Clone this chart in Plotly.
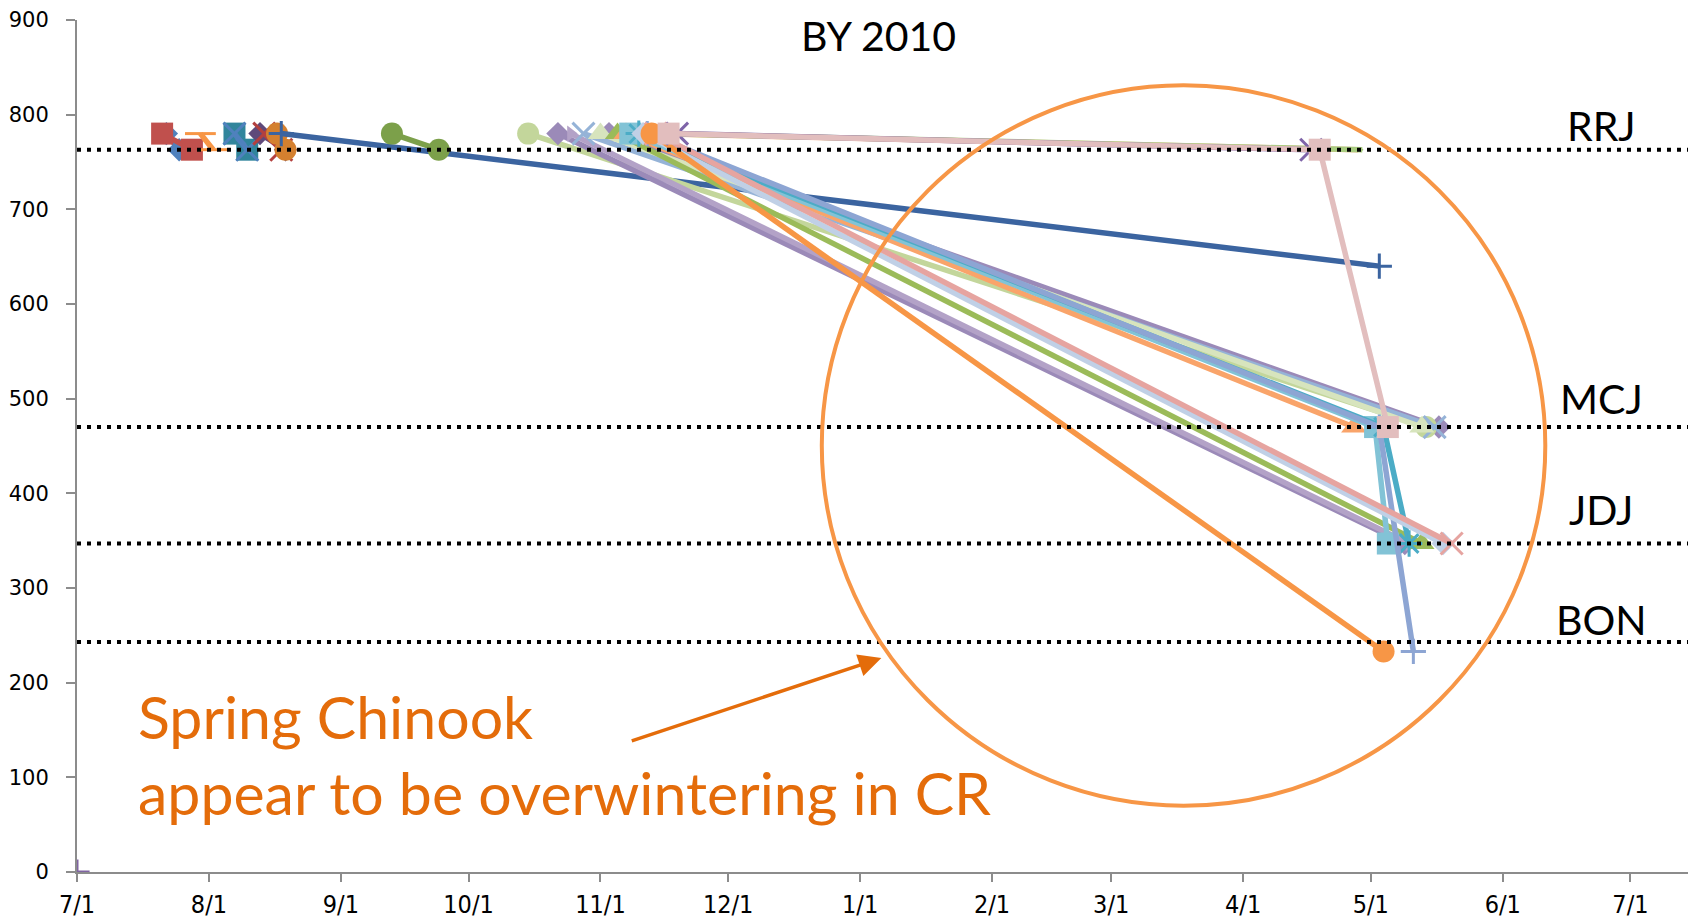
import plotly.graph_objects as go

# ---------------- data (dates, river km) ----------------
s01_dates = ["2010-07-01"]; s01_rkm = [0]
s02_dates = ["2010-07-22", "2010-07-25"]; s02_rkm = [780, 763]
s03_dates = ["2010-07-21", "2010-07-28"]; s03_rkm = [780, 763]
s04_dates = ["2010-07-30", "2010-08-02"]; s04_rkm = [780, 763]
s05_dates = ["2010-08-07", "2010-08-10"]; s05_rkm = [780, 763]
s06_dates = ["2010-08-07", "2010-08-10"]; s06_rkm = [780, 763]
s07_dates = ["2010-08-13", "2010-08-19"]; s07_rkm = [780, 763]
s08_dates = ["2010-08-14", "2010-08-18"]; s08_rkm = [780, 763]
s09_dates = ["2010-08-17", "2010-08-19"]; s09_rkm = [780, 763]
s10_dates = ["2010-08-18", "2011-05-03"]; s10_rkm = [780, 640]
s11_dates = ["2010-09-13", "2010-09-24"]; s11_rkm = [780, 763]
s12_dates = ["2010-11-03", "2011-05-17"]; s12_rkm = [780, 470]
s13_dates = ["2010-10-15", "2011-05-14"]; s13_rkm = [780, 470]
s14_dates = ["2010-10-22", "2011-05-09"]; s14_rkm = [780, 347]
s15_dates = ["2010-10-25", "2011-05-10"]; s15_rkm = [780, 347]
s16_dates = ["2010-10-28", "2011-05-16"]; s16_rkm = [780, 470]
s17_dates = ["2010-11-01", "2011-05-13"]; s17_rkm = [780, 470]
s18_dates = ["2010-11-05", "2011-05-13"]; s18_rkm = [780, 347]
s19_dates = ["2010-11-07", "2011-04-27"]; s19_rkm = [780, 470]
s20_dates = ["2010-11-08", "2011-05-02", "2011-05-05"]; s20_rkm = [780, 470, 347]
s21_dates = ["2010-11-10", "2011-05-04", "2011-05-10"]; s21_rkm = [780, 470, 347]
s22_dates = ["2010-11-12", "2011-05-03", "2011-05-11"]; s22_rkm = [780, 470, 233]
s23_dates = ["2010-11-11", "2011-05-18"]; s23_rkm = [780, 347]
s24_dates = ["2010-11-12", "2011-04-28"]; s24_rkm = [780, 763]
s25_dates = ["2010-11-14", "2011-04-29"]; s25_rkm = [780, 763]
s26_dates = ["2010-11-14", "2011-05-20"]; s26_rkm = [780, 347]
s27_dates = ["2010-11-13", "2011-05-04"]; s27_rkm = [780, 233]
s28_dates = ["2010-11-19", "2011-04-17"]; s28_rkm = [780, 763]
s29_dates = ["2010-11-17", "2011-04-19", "2011-05-05"]; s29_rkm = [780, 763, 470]

dam_names = ["RRJ", "MCJ", "JDJ", "BON"]
dam_rkm = [763, 470, 347, 243]

x_range = ["2010-07-01", "2011-07-15"]
title_text = "BY 2010"
note_lines = ["Spring Chinook", "appear to be overwintering in CR"]

# ---------------- styles ----------------
series = [
    (s01_dates, s01_rkm, "#8064A2", "cross-thin-open", 18),
    (s02_dates, s02_rkm, "#4F81BD", "diamond", 18),
    (s03_dates, s03_rkm, "#C0504D", "square", 22),
    (s04_dates, s04_rkm, "#F79646", "line-ew-open", 22),
    (s05_dates, s05_rkm, "#31859C", "square", 22),
    (s06_dates, s06_rkm, "#4F81BD", "x-thin-open", 22),
    (s07_dates, s07_rkm, "#5F497A", "diamond", 18),
    (s08_dates, s08_rkm, "#B3403E", "x-thin-open", 22),
    (s09_dates, s09_rkm, "#D4802F", "circle", 22),
    (s10_dates, s10_rkm, "#3B64A0", "cross-thin-open", 18),
    (s11_dates, s11_rkm, "#7CA04A", "circle", 22),
    (s12_dates, s12_rkm, "#9B8AB8", "diamond", 18),
    (s13_dates, s13_rkm, "#C3D69B", "circle", 22),
    (s14_dates, s14_rkm, "#9B8AB8", "diamond", 18),
    (s15_dates, s15_rkm, "#B3A2C7", "triangle-right", 14),
    (s16_dates, s16_rkm, "#95B3D7", "x-thin-open", 22),
    (s17_dates, s17_rkm, "#D7E4BD", "triangle-up", 22),
    (s18_dates, s18_rkm, "#9BBB59", "triangle-up", 22),
    (s19_dates, s19_rkm, "#F9A46A", "triangle-up", 22),
    (s20_dates, s20_rkm, "#82C3D6", "square", 22),
    (s21_dates, s21_rkm, "#4BACC6", "asterisk-open", 22),
    (s22_dates, s22_rkm, "#8DA5D3", "cross-thin-open", 18),
    (s23_dates, s23_rkm, "#C0D0E6", "diamond", 18),
    (s24_dates, s24_rkm, "#FAB890", "circle", 2),
    (s25_dates, s25_rkm, "#A8CC80", "circle", 2),
    (s26_dates, s26_rkm, "#E6A4A0", "x-thin-open", 22),
    (s27_dates, s27_rkm, "#F79646", "circle", 22),
    (s28_dates, s28_rkm, "#7E64A8", "x-thin-open", 22),
    (s29_dates, s29_rkm, "#E2BEBE", "square", 22),
]

fig = go.Figure()
for dates, rkm, color, symbol, size in series:
    is_open = symbol.endswith("open")
    fig.add_trace(go.Scatter(
        x=dates, y=rkm, mode="lines+markers",
        line=dict(color=color, width=5.5),
        marker=dict(symbol=symbol, size=size, color=color,
                    line=dict(color=color, width=3 if is_open else 0)),
        showlegend=False, hoverinfo="x+y"))

shapes = []
for v in dam_rkm:
    shapes.append(dict(type="line", xref="paper", x0=0, x1=1, yref="y", y0=v, y1=v,
                       line=dict(color="black", width=4, dash="4px,6px"), layer="above"))
# big highlight circle
shapes.append(dict(type="circle", xref="x", yref="y", x0="2010-12-23", x1="2011-06-11",
                   y0=70, y1=831, line=dict(color="#F79646", width=4)))

annotations = []
label_shift = [24, 29, 34, 22]
for name, v, sh in zip(dam_names, dam_rkm, label_shift):
    annotations.append(dict(text=name, xref="paper", x=0.945, yref="y", y=v,
                            yshift=sh, xanchor="center", yanchor="middle", showarrow=False,
                            font=dict(family="Lato", size=41, color="black")))
annotations.append(dict(text=title_text, xref="paper", x=0.4967, yref="paper", y=1.0125,
                        xanchor="center", yanchor="top", showarrow=False,
                        font=dict(family="Lato", size=41, color="black")))
annotations.append(dict(text=note_lines[0], xref="paper", x=0.0363, yref="paper", y=0.1825,
                        xanchor="left", yanchor="middle", showarrow=False,
                        font=dict(family="Lato", size=59, color="#E46C0A")))
annotations.append(dict(text=note_lines[1], xref="paper", x=0.0363, yref="paper", y=0.0935,
                        xanchor="left", yanchor="middle", showarrow=False,
                        font=dict(family="Lato", size=59, color="#E46C0A")))
annotations.append(dict(text="", x="2011-01-06", y=226, xref="x", yref="y",
                        ax="2010-11-08", ay=138, axref="x", ayref="y",
                        showarrow=True, arrowhead=2, arrowsize=1.3, arrowwidth=3.5,
                        arrowcolor="#E46C0A"))

fig.update_layout(
    width=1688, height=915,
    margin=dict(l=69, r=6, t=11.5, b=51),
    paper_bgcolor="white", plot_bgcolor="white",
    shapes=shapes, annotations=annotations,
    xaxis=dict(type="date", range=x_range, tick0="2010-07-01", dtick="M1",
               tickformat="%-m/%-d", showgrid=False, zeroline=False, automargin=False,
               showline=True, linecolor="#8C8C8C", linewidth=2,
               ticks="outside", ticklen=8, tickcolor="#8C8C8C", tickwidth=1.5,
               ticklabelstandoff=1,
               tickfont=dict(family="Liberation Sans Narrow, DejaVu Sans Condensed, Arial Narrow, sans-serif",
                             size=25, color="black")),
    yaxis=dict(range=[0, 900], dtick=100, showgrid=False, zeroline=False, automargin=False,
               showline=True, linecolor="#8C8C8C", linewidth=2,
               ticks="outside", ticklen=9, tickcolor="#8C8C8C", tickwidth=1.5,
               ticklabelstandoff=13,
               tickfont=dict(family="DejaVu Sans", size=21, color="black")),
)

fig.write_html("out.html")
